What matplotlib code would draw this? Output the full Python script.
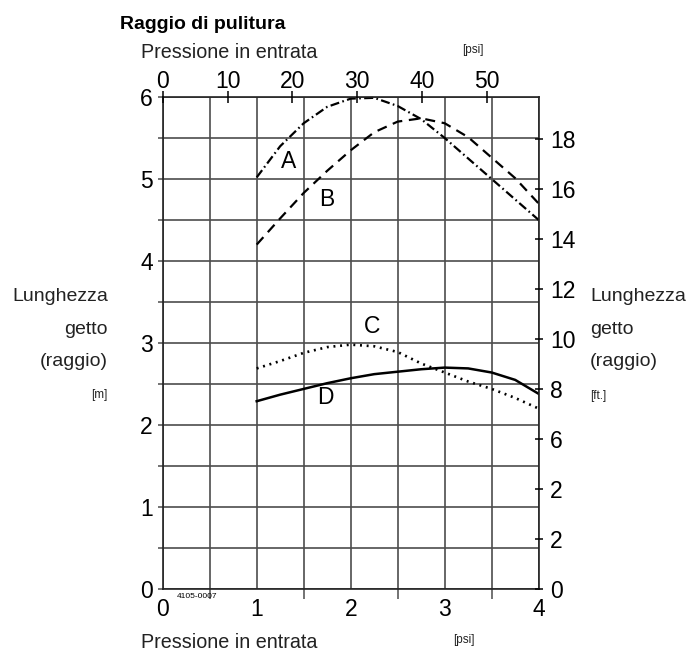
import matplotlib.pyplot as plt
from matplotlib.ticker import FixedLocator, MultipleLocator

plt.rcParams['font.family'] = ['Liberation Sans', 'DejaVu Sans']
plt.rcParams['lines.scale_dashes'] = False

# Pressione in entrata [bar]
pressione = [1.0, 1.25, 1.5, 1.75, 2.0, 2.25, 2.5, 2.75, 3.0, 3.25, 3.5, 3.75, 4.0]

# Lunghezza getto [m] per ugello
curva_a = [5.02, 5.40, 5.68, 5.88, 5.98, 5.99, 5.89, 5.73, 5.50, 5.25, 5.00, 4.75, 4.50]
curva_b = [4.20, 4.52, 4.83, 5.10, 5.35, 5.57, 5.70, 5.74, 5.68, 5.51, 5.26, 5.01, 4.70]
curva_c = [2.69, 2.78, 2.88, 2.95, 2.98, 2.96, 2.89, 2.75, 2.64, 2.53, 2.44, 2.33, 2.20]
curva_d = [2.29, 2.37, 2.44, 2.51, 2.57, 2.62, 2.65, 2.68, 2.70, 2.69, 2.64, 2.55, 2.38]

# posizione delle lettere (bar, m)
lettere = ['A', 'B', 'C', 'D']
lettere_x = [1.34, 1.74, 2.23, 1.73]
lettere_y = [5.21, 4.75, 3.20, 2.33]

tick_m = [0, 1, 2, 3, 4, 5, 6]
tick_bar = [0, 1, 2, 3, 4]
tick_psi = [0, 10, 20, 30, 40, 50]
tick_ft = [0, 2, 4, 6, 8, 10, 12, 14, 16, 18]
etichette_ft = ['0', '2', '2', '6', '8', '10', '12', '14', '16', '18']

BAR_PSI = 14.5038
M_FT = 1 / 0.3048

W, H = 694, 653


def fx(px):
    return px / W


def fy(py):
    return 1 - py / H


fig = plt.figure(figsize=(W / 100, H / 100), dpi=100)
ax = fig.add_axes([fx(162.7), 64 / H, 376 / W, 492 / H])

ax.set_xlim(0, 4)
ax.set_ylim(0, 6)

grid_col = '#4d4d4d'
ax.xaxis.set_minor_locator(MultipleLocator(0.5))
ax.yaxis.set_minor_locator(MultipleLocator(0.5))
ax.grid(True, which='both', color=grid_col, linewidth=1.2)
ax.set_axisbelow(True)

ax.set_xticks(tick_bar)
ax.set_yticks(tick_m)
ax.tick_params(axis='x', which='major', length=0, pad=6.5, labelsize=16.5)
ax.tick_params(axis='x', which='minor', length=7, width=1.1, color=grid_col, direction='out')
ax.tick_params(axis='y', which='both', length=3.4, width=1.1, color=grid_col, direction='out')
ax.tick_params(axis='y', which='major', pad=3.6, labelsize=16.5)
for s in ax.spines.values():
    s.set_color('#222222')
    s.set_linewidth(1.2)

# curve
ax.plot(pressione, curva_a, color='black', linewidth=1.6, dashes=(6.5, 2.4, 1.2, 2.4), clip_on=False)
ax.plot(pressione, curva_b, color='black', linewidth=1.6, dashes=(7.2, 4.8))
ax.plot(pressione, curva_c, color='black', linewidth=1.9, dashes=(1.4, 3.4))
ax.plot(pressione, curva_d, color='black', linewidth=1.8)

for lab, lx, ly in zip(lettere, lettere_x, lettere_y):
    ax.text(lx, ly, lab, fontsize=16.5, ha='center', va='center')

# asse destro [ft.]
ax_r = ax.twinx()
ax_r.set_ylim(0, 6 * M_FT)
ax_r.yaxis.set_major_locator(FixedLocator(tick_ft))
ax_r.set_yticklabels(etichette_ft)
ax_r.tick_params(axis='y', direction='inout', length=5.8, width=1.1, pad=5.1, labelsize=16.5)
for s in ax_r.spines.values():
    s.set_visible(False)

# asse superiore [psi]
ax_t = ax.twiny()
ax_t.set_xlim(0, 4 * BAR_PSI)
ax_t.xaxis.set_major_locator(FixedLocator(tick_psi))
ax_t.tick_params(axis='x', direction='inout', length=9, width=1.1, pad=-1.6, labelsize=16.5)
for s in ax_t.spines.values():
    s.set_visible(False)

# testi
fig.text(fx(120), fy(29), 'Raggio di pulitura', fontsize=14, fontweight='bold',
         ha='left', va='baseline')
fig.text(fx(141), fy(58.5), 'Pressione in entrata', fontsize=14.2, color='#222222',
         ha='left', va='baseline')
fig.text(fx(462), fy(53), '[psi]', fontsize=8.5, color='#222222', ha='left', va='baseline')
fig.text(fx(141), fy(648.5), 'Pressione in entrata', fontsize=14.2, color='#222222',
         ha='left', va='baseline')
fig.text(fx(453), fy(643), '[psi]', fontsize=8.5, color='#222222', ha='left', va='baseline')
fig.text(fx(177), fy(597.5), '4105-0007', fontsize=6, ha='left', va='baseline')

righe = ['Lunghezza', 'getto', '(raggio)']
basi = [301.5, 334, 366.5]
for t, b in zip(righe, basi):
    fig.text(fx(108), fy(b), t, fontsize=14, color='#222222', ha='right', va='baseline')
    fig.text(fx(590), fy(b), t, fontsize=14, color='#222222', ha='left', va='baseline')
fig.text(fx(107), fy(398), '[m]', fontsize=8.5, color='#222222', ha='right', va='baseline')
fig.text(fx(590), fy(399), '[ft.]', fontsize=8.5, color='#222222', ha='left', va='baseline')

fig.savefig('out.png', dpi=100)
